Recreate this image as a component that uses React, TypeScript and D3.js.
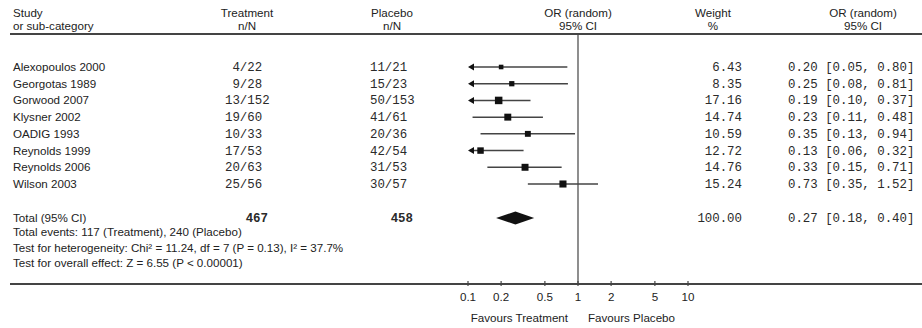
import React from 'react';
import * as d3 from 'd3';

const studies = ['Alexopoulos 2000', 'Georgotas 1989', 'Gorwood 2007', 'Klysner 2002', 'OADIG 1993', 'Reynolds 1999', 'Reynolds 2006', 'Wilson 2003'];
const treatEvents = [4, 9, 13, 19, 10, 17, 20, 25];
const treatN = [22, 28, 152, 60, 33, 53, 63, 56];
const placEvents = [11, 15, 50, 41, 20, 42, 31, 30];
const placN = [21, 23, 153, 61, 36, 54, 53, 57];
const weights = [6.43, 8.35, 17.16, 14.74, 10.59, 12.72, 14.76, 15.24];
const orEst = [0.20, 0.25, 0.19, 0.23, 0.35, 0.13, 0.33, 0.73];
const orLo = [0.05, 0.08, 0.10, 0.11, 0.13, 0.06, 0.15, 0.35];
const orHi = [0.80, 0.81, 0.37, 0.48, 0.94, 0.32, 0.71, 1.52];
const totalTreatN = 467;
const totalPlacN = 458;
const totalWeight = 100.0;
const totalOR = [0.27, 0.18, 0.40];
const axisTicks = [0.1, 0.2, 0.5, 1, 2, 5, 10];

const SANS = '"Liberation Sans", Arial, sans-serif';
const MONO = '"Liberation Mono", "Courier New", monospace';
const TXT = '#222';
const LINE = '#444';

export default function App() {
  const W = 922, H = 328;
  const x = d3.scaleLog().domain([0.1, 10]).range([468, 688]);
  const y = d3.scalePoint<string>().domain(studies).range([67, 184]);
  const size = d3.scaleSqrt().domain([0, 17.16]).range([0, 7.5]);
  const f2 = d3.format('.2f');
  const rowsY = studies.map((s) => y(s) as number);
  const totalY = 218;
  const axisY = 284;
  const h1 = 17, h2 = 30;
  const sansProps = { fontFamily: SANS, fontSize: 11.6, fill: TXT };
  const monoProps = { fontFamily: MONO, fontSize: 12.4, fill: '#2a2a2a' };
  const diamondPath = `M${x(totalOR[1])},${totalY} L${x(totalOR[0])},${totalY - 6.5} L${x(totalOR[2])},${totalY} L${x(totalOR[0])},${totalY + 6.5} Z`;

  return (
    <div style={{ position: 'fixed', left: 0, top: 0, background: '#fff' }}>
      <svg width={W} height={H} style={{ display: 'block' }}>
        <rect width={W} height={H} fill="#fff" />
        {/* Header */}
        <text x={13} y={h1} {...sansProps}>Study</text>
        <text x={13} y={h2} {...sansProps}>or sub-category</text>
        <text x={247} y={h1} textAnchor="middle" {...sansProps}>Treatment</text>
        <text x={247} y={h2} textAnchor="middle" {...sansProps}>n/N</text>
        <text x={392} y={h1} textAnchor="middle" {...sansProps}>Placebo</text>
        <text x={392} y={h2} textAnchor="middle" {...sansProps}>n/N</text>
        <text x={x(1)} y={h1} textAnchor="middle" {...sansProps}>OR (random)</text>
        <text x={x(1)} y={h2} textAnchor="middle" {...sansProps}>95% CI</text>
        <text x={713} y={h1} textAnchor="middle" {...sansProps}>Weight</text>
        <text x={713} y={h2} textAnchor="middle" {...sansProps}>%</text>
        <text x={863} y={h1} textAnchor="middle" {...sansProps}>OR (random)</text>
        <text x={863} y={h2} textAnchor="middle" {...sansProps}>95% CI</text>
        <line x1={10} x2={W} y1={34} y2={34} stroke={LINE} strokeWidth={2} />

        {/* null line */}
        <line x1={x(1)} x2={x(1)} y1={34} y2={axisY} stroke={LINE} strokeWidth={1.2} />

        {/* Study rows */}
        {studies.map((s, i) => {
          const cy = rowsY[i];
          const clipped = orLo[i] <= 0.1;
          const x0 = clipped ? x(0.1) + 4 : x(orLo[i]);
          const x1 = x(Math.min(orHi[i], 10));
          const sz = size(weights[i]);
          return (
            <g key={s}>
              <text x={13} y={cy + 4} {...sansProps}>{s}</text>
              <text x={225} y={cy + 4} {...monoProps} style={{ whiteSpace: 'pre' }}>{String(treatEvents[i]).padStart(2, ' ') + '/' + treatN[i]}</text>
              <text x={370} y={cy + 4} {...monoProps} style={{ whiteSpace: 'pre' }}>{String(placEvents[i]).padStart(2, ' ') + '/' + placN[i]}</text>
              <line x1={x0} x2={x1} y1={cy} y2={cy} stroke={LINE} strokeWidth={1.5} />
              {clipped && (
                <path d={`M${x(0.1)},${cy} L${x(0.1) + 6},${cy - 3.5} L${x(0.1) + 6},${cy + 3.5} Z`} fill="#111" />
              )}
              <rect x={x(orEst[i]) - sz / 2} y={cy - sz / 2} width={sz} height={sz} fill="#111" />
              <text x={742} y={cy + 4} textAnchor="end" {...monoProps}>{f2(weights[i])}</text>
              <text x={788} y={cy + 4} {...monoProps} style={{ whiteSpace: 'pre' }}>{`${f2(orEst[i])} [${f2(orLo[i])}, ${f2(orHi[i])}]`}</text>
            </g>
          );
        })}

        {/* Total */}
        <text x={13} y={totalY + 4} {...sansProps}>Total (95% CI)</text>
        <text x={268} y={totalY + 4} textAnchor="end" {...monoProps} fontWeight="bold">{totalTreatN}</text>
        <text x={413} y={totalY + 4} textAnchor="end" {...monoProps} fontWeight="bold">{totalPlacN}</text>
        <path d={diamondPath} fill="#111" />
        <text x={742} y={totalY + 4} textAnchor="end" {...monoProps}>{f2(totalWeight)}</text>
        <text x={788} y={totalY + 4} {...monoProps} style={{ whiteSpace: 'pre' }}>{`${f2(totalOR[0])} [${f2(totalOR[1])}, ${f2(totalOR[2])}]`}</text>
        <text x={13} y={236} {...sansProps}>Total events: 117 (Treatment), 240 (Placebo)</text>
        <text x={13} y={252} {...sansProps}>Test for heterogeneity: Chi² = 11.24, df = 7 (P = 0.13), I² = 37.7%</text>
        <text x={13} y={267} {...sansProps}>Test for overall effect: Z = 6.55 (P &lt; 0.00001)</text>

        {/* Axis */}
        <line x1={10} x2={W} y1={axisY} y2={axisY} stroke={LINE} strokeWidth={2} />
        {axisTicks.map((t) => (
          <g key={t}>
            <line x1={x(t)} x2={x(t)} y1={axisY - 3} y2={axisY + 2} stroke={LINE} strokeWidth={1.2} />
            <text x={x(t)} y={axisY + 17} textAnchor="middle" {...sansProps}>{String(t)}</text>
          </g>
        ))}
        <text x={x(1) - 10} y={axisY + 38} textAnchor="end" {...sansProps}>Favours Treatment</text>
        <text x={x(1) + 10} y={axisY + 38} {...sansProps}>Favours Placebo</text>
      </svg>
    </div>
  );
}
